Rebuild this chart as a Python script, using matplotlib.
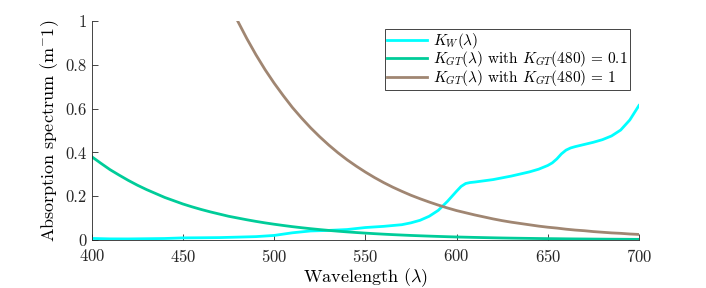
import matplotlib
matplotlib.use("Agg")
import matplotlib.pyplot as plt

plt.rcParams['font.family'] = 'serif'
plt.rcParams['font.serif'] = ['cmr10']
plt.rcParams['mathtext.fontset'] = 'cm'
plt.rcParams['axes.formatter.use_mathtext'] = True

# water absorption K_W
wl_w = [400, 410, 420, 430, 440, 450, 460, 470, 480, 490, 500, 510, 520, 530, 540,
        550, 560, 570, 575, 580, 585, 590, 595, 600, 602.5, 605, 607.5, 610, 620, 630,
        640, 645, 650, 652.5, 655, 657.5, 660, 662.5, 665, 670, 675, 680, 685, 690, 695, 700]
k_w = [0.0066, 0.0047, 0.0045, 0.0054, 0.0064, 0.0092, 0.0098, 0.0106, 0.0127, 0.015,
       0.0204, 0.0325, 0.0409, 0.0434, 0.0474, 0.0565, 0.0619, 0.0695, 0.078, 0.0896,
       0.108, 0.1351, 0.176, 0.2224, 0.2444, 0.2577, 0.2622, 0.2644, 0.2755, 0.2916,
       0.3108, 0.323, 0.34, 0.352, 0.37, 0.393, 0.41, 0.42, 0.426, 0.436, 0.446,
       0.458, 0.475, 0.502, 0.548, 0.614]

# K_GT with K_GT(480) = 0.1
wl_g = list(range(400, 701, 5))
k_g01 = [0.38, 0.350, 0.321, 0.296, 0.272, 0.250, 0.230, 0.212, 0.194, 0.179,
         0.164, 0.151, 0.139, 0.128, 0.118, 0.108, 0.100, 0.0920, 0.0846, 0.0778,
         0.0716, 0.0659, 0.0605, 0.0557, 0.0512, 0.0471, 0.0433, 0.0398, 0.0366, 0.0337,
         0.0310, 0.0285, 0.0262, 0.0241, 0.0222, 0.0204, 0.0188, 0.0173, 0.0159, 0.0146,
         0.0134, 0.0124, 0.0114, 0.0105, 0.0096, 0.0088, 0.0081, 0.0075, 0.0069, 0.0063,
         0.0058, 0.0054, 0.0049, 0.0045, 0.0042, 0.0038, 0.0035, 0.0032, 0.0030, 0.0027,
         0.0025]

# K_GT with K_GT(480) = 1
wl_b = list(range(480, 701, 5))
k_g1 = [1.0, 0.920, 0.846, 0.778, 0.716, 0.659, 0.605, 0.557, 0.512, 0.471, 0.433,
        0.398, 0.366, 0.337, 0.310, 0.285, 0.262, 0.241, 0.222, 0.204, 0.188, 0.173,
        0.159, 0.146, 0.134, 0.124, 0.114, 0.105, 0.096, 0.088, 0.081, 0.075, 0.069,
        0.063, 0.058, 0.054, 0.049, 0.045, 0.042, 0.038, 0.035, 0.032, 0.030, 0.027, 0.025]

fig = plt.figure(figsize=(7.06, 2.88), dpi=100)
ax = fig.add_axes([0.130, 0.167, 0.775, 0.760])

ax.plot(wl_w, k_w, color='#00FFFF', lw=2, label=r'$K_W(\lambda)$')
ax.plot(wl_g, k_g01, color='#00CC99', lw=2,
        label=r'$K_{GT}(\lambda)$ with $K_{GT}(480)\,=\,0.1$')
ax.plot(wl_b, k_g1, color='#A08672', lw=2,
        label=r'$K_{GT}(\lambda)$ with $K_{GT}(480)\,=\,1$')

ax.set_xlim(400, 700)
ax.set_ylim(0, 1)
ax.set_xticks([400, 450, 500, 550, 600, 650, 700])
ax.set_yticks([0, 0.2, 0.4, 0.6, 0.8, 1])
ax.set_yticklabels(['0', '0.2', '0.4', '0.6', '0.8', '1'])
ax.spines['top'].set_visible(False)
ax.spines['right'].set_visible(False)
for s in ['left', 'bottom']:
    ax.spines[s].set_color('#262626')
    ax.spines[s].set_linewidth(0.6)
ax.tick_params(direction='in', length=4, width=0.6, labelsize=12, colors='#262626')
ax.tick_params(axis='x', pad=6)
ax.set_xlabel(r'Wavelength ($\lambda$)', fontsize=13, labelpad=1)
ax.set_ylabel(r'Absorption spectrum (m$^{-}$1)', fontsize=13, labelpad=3)

leg = ax.legend(loc='upper right', bbox_to_anchor=(0.983, 0.965), fontsize=11,
                fancybox=False, framealpha=1, handlelength=2.6, borderpad=0.15,
                labelspacing=-0.1, handletextpad=0.4, borderaxespad=0)
leg.get_frame().set_edgecolor('#262626')
leg.get_frame().set_linewidth(0.6)

fig.savefig('out.png', dpi=100)
